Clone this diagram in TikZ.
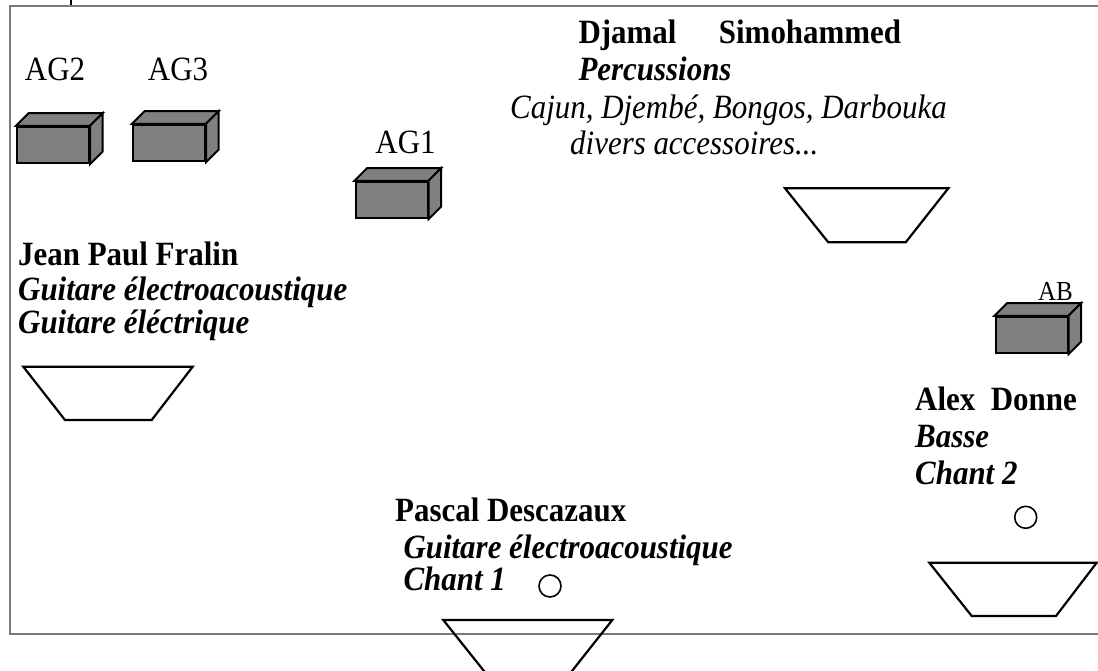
\documentclass[tikz,border=0pt]{standalone}
\usepackage{fontspec}
\setmainfont[FakeStretch=0.91]{Liberation Serif}
\begin{document}
\begin{tikzpicture}[x=1pt,y=-1pt,
  txt/.style={anchor=base west, inner sep=0pt, font=\fontsize{34}{40}\selectfont},
  nm/.style={txt, font=\fontsize{34}{40}\selectfont\bfseries},
  bi/.style={txt, font=\fontsize{34}{40}\selectfont\bfseries\itshape},
  it/.style={txt, font=\fontsize{34}{40}\selectfont\itshape},
  lbl/.style={anchor=base, inner sep=0pt, font=\fontsize{34}{40}\selectfont},
  ampfront/.style={draw=black, fill=ampgray, line width=2pt, inner sep=0pt, minimum width=72pt, minimum height=36.5pt},
  ampface/.style={draw=black, fill=ampgray, line width=2pt, line join=miter},
  monitor/.style={draw=black, line width=2.2pt, line join=miter},
  mic/.style={draw=black, line width=1.6pt, circle, inner sep=0pt, minimum size=22pt},
  frame/.style={draw=framegray, line width=2pt}]
\definecolor{ampgray}{HTML}{808080}
\definecolor{framegray}{HTML}{7A7A7A}
\useasboundingbox (0,0) rectangle (1098,670);
\clip (0,0) rectangle (1098,670);
\fill[white] (0,0) rectangle (1098,670);

% stage frame
\draw[frame] (1100,5.7) -- (10,5.7) -- (10,633.5) -- (1100,633.5);
\draw[black, line width=2pt] (71,0) -- (71,5);

% amplifiers
\node[ampfront] (ag2) at (53,145) {};
\node[ampfront] (ag3) at (169,143) {};
\node[ampfront] (ag1) at (391.5,200) {};
\node[ampfront] (ab) at (1031.5,335) {};
\foreach \b in {ag2,ag3,ag1,ab}{
  \draw[ampface] (\b.north west) -- ++(12.7,-12.7) -- ([shift={(12.7,-12.7)}]\b.north east) -- (\b.north east) -- cycle;
  \draw[ampface] (\b.north east) -- ++(12.7,-12.7) -- ([shift={(12.7,-12.7)}]\b.south east) -- (\b.south east) -- cycle;
}
\node[lbl] (tag2) at (55,80) {AG2};
\node[lbl] (tag3) at (178,80) {AG3};
\node[lbl] (tag1) at (405.5,153) {AG1};
\node[lbl, font=\fontsize{27.5}{32}\selectfont] (tab) at (1055.5,300) {AB};

% monitors
\draw[monitor] (785,188.3) -- (948.3,188.3) -- (905.7,242.3) -- (828.3,242.3) -- cycle;
\draw[monitor] (23.3,366.7) -- (192.7,366.7) -- (151.7,420) -- (65,420) -- cycle;
\draw[monitor] (443.3,620) -- (612.3,620) -- (570,673.5) -- (486,673.5) -- cycle;
\draw[monitor] (929.3,562.7) -- (1096.7,562.7) -- (1056,616) -- (971.7,616) -- cycle;

% microphones
\node[mic] (mic1) at (550,586) {};
\node[mic] (mic2) at (1025.7,517.3) {};

% Djamal
\node[nm] (dj1) at (578.3,43.3) {Djamal\hspace*{1.25em}Simohammed};
\node[bi] (dj2) at (578.3,80.5) {Percussions};
\node[it] (dj3) at (510,118) {Cajun, Djembé, Bongos, Darbouka};
\node[it] (dj4) at (570,154) {divers accessoires...};

% Jean Paul
\node[nm] (jp1) at (18,265.5) {Jean Paul Fralin};
\node[bi] (jp2) at (18,300.5) {Guitare électroacoustique};
\node[bi] (jp3) at (18,333.5) {Guitare éléctrique};

% Pascal
\node[nm] (pd1) at (395,521.7) {Pascal Descazaux};
\node[bi] (pd2) at (403.3,558.3) {Guitare électroacoustique};
\node[bi] (pd3) at (403.3,590) {Chant 1};

% Alex
\node[nm] (ad1) at (915,410.7) {Alex\ \ Donne};
\node[bi] (ad2) at (915,447.3) {Basse};
\node[bi] (ad3) at (915,484) {Chant 2};
\end{tikzpicture}
\end{document}
